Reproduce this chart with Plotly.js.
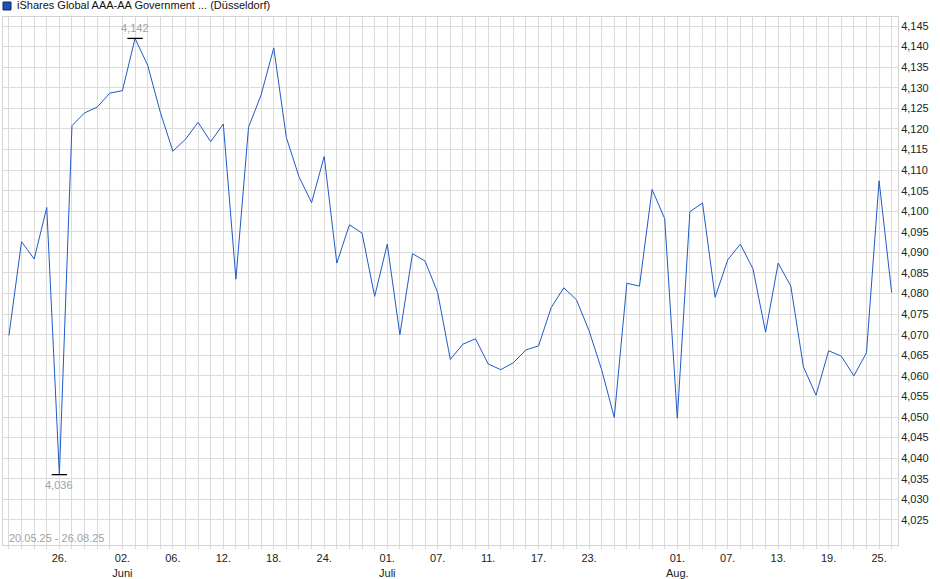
<!DOCTYPE html>
<html>
<head>
<meta charset="utf-8">
<script src="https://cdn.plot.ly/plotly-3.0.1.min.js"></script>
<style>
  html, body { margin: 0; padding: 0; background: #fff; }
  #chart { width: 940px; height: 579px; }
</style>
</head>
<body>
<div id="chart"></div>
<script>
// daily closing prices, Duesseldorf, 20.05.25 - 26.08.25

var seriesName = 'iShares Global AAA-AA Government ... (Düsseldorf)';

var dates = [
  '20.05.25', '21.05.25', '22.05.25', '23.05.25', '26.05.25', '27.05.25', '28.05.25', '29.05.25', '30.05.25',
  '02.06.25', '03.06.25', '04.06.25', '05.06.25', '06.06.25', '09.06.25', '10.06.25', '11.06.25', '12.06.25',
  '13.06.25', '16.06.25', '17.06.25', '18.06.25', '19.06.25', '20.06.25', '23.06.25', '24.06.25', '25.06.25',
  '26.06.25', '27.06.25', '30.06.25', '01.07.25', '02.07.25', '03.07.25', '04.07.25', '07.07.25', '08.07.25',
  '09.07.25', '10.07.25', '11.07.25', '14.07.25', '15.07.25', '16.07.25', '17.07.25', '18.07.25', '21.07.25',
  '22.07.25', '23.07.25', '24.07.25', '25.07.25', '28.07.25', '29.07.25', '30.07.25', '31.07.25', '01.08.25',
  '04.08.25', '05.08.25', '06.08.25', '07.08.25', '08.08.25', '11.08.25', '12.08.25', '13.08.25', '14.08.25',
  '15.08.25', '18.08.25', '19.08.25', '20.08.25', '21.08.25', '22.08.25', '25.08.25', '26.08.25'
];

var prices = [
  4.0698, 4.0926, 4.0884, 4.1009, 4.0360, 4.1208, 4.1239, 4.1253, 4.1287,
  4.1293, 4.1420, 4.1355, 4.1241, 4.1146, 4.1175, 4.1216, 4.1169, 4.1212,
  4.0835, 4.1204, 4.1283, 4.1397, 4.1179, 4.1084, 4.1021, 4.1133, 4.0874,
  4.0967, 4.0947, 4.0793, 4.0920, 4.0700, 4.0897, 4.0879, 4.0802, 4.0640,
  4.0677, 4.0690, 4.0629, 4.0615, 4.0632, 4.0663, 4.0673, 4.0766, 4.0814,
  4.0785, 4.0710, 4.0615, 4.0499, 4.0825, 4.0818, 4.1053, 4.0982, 4.0497,
  4.0999, 4.1020, 4.0791, 4.0882, 4.0920, 4.0860, 4.0706, 4.0874, 4.0818,
  4.0622, 4.0553, 4.0661, 4.0648, 4.0600, 4.0656, 4.1074, 4.0802
];

// labelled days on the x axis
var labelDates = ['26.05.25', '02.06.25', '06.06.25', '12.06.25', '18.06.25', '24.06.25', '01.07.25', '07.07.25',
                  '11.07.25', '17.07.25', '23.07.25', '01.08.25', '07.08.25', '13.08.25', '19.08.25', '25.08.25'];
var labelText = ['26.', '02.<br>Juni', '06.', '12.', '18.', '24.', '01.<br>Juli', '07.',
                 '11.', '17.', '23.', '01.<br>Aug.', '07.', '13.', '19.', '25.'];

// price axis ticks (no label on the 4,020 line)
var yTicks = [4.025, 4.030, 4.035, 4.040, 4.045, 4.050, 4.055, 4.060, 4.065, 4.070, 4.075, 4.080, 4.085,
              4.090, 4.095, 4.100, 4.105, 4.110, 4.115, 4.120, 4.125, 4.130, 4.135, 4.140, 4.145];

var i;
var tickText = [];
for (i = 0; i < dates.length; i++) {
    var k = labelDates.indexOf(dates[i]);
    tickText.push(k >= 0 ? labelText[k] : '');
}

function fmt(v) {
    return v.toFixed(3).replace('.', ',');
}

var iMax = 0, iMin = 0;
for (i = 1; i < prices.length; i++) {
    if (prices[i] > prices[iMax]) iMax = i;
    if (prices[i] < prices[iMin]) iMin = i;
}

var trace = {
    x: dates,
    y: prices,
    type: 'scatter',
    mode: 'lines',
    line: {color: '#1f5bc6', width: 1},
    hoverinfo: 'x+y'
};

var extremes = {
    x: [dates[iMax], dates[iMin]],
    y: [prices[iMax], prices[iMin]],
    type: 'scatter',
    mode: 'markers',
    marker: {symbol: 'line-ew', size: 11, line: {color: '#000', width: 1.3}},
    hoverinfo: 'skip'
};

var layout = {
    width: 940,
    height: 579,
    showlegend: false,
    paper_bgcolor: '#fff',
    plot_bgcolor: '#fff',
    separators: ',.',
    font: {family: 'Liberation Sans, Arial, sans-serif', size: 11, color: '#222'},
    margin: {l: 3, r: 42, t: 17, b: 34, pad: 0},
    xaxis: {
        type: 'category',
        range: [-0.47, 70.5],
        tickmode: 'array',
        tickvals: dates,
        ticktext: tickText,
        showgrid: true,
        gridcolor: '#dcdcdc',
        gridwidth: 1,
        ticks: 'outside',
        ticklen: 3,
        tickcolor: '#dcdcdc',
        showline: true,
        linecolor: '#d4d4d4',
        mirror: true,
        zeroline: false,
        tickangle: 0,
        tickfont: {size: 11, color: '#222'}
    },
    yaxis: {
        side: 'right',
        range: [4.0189, 4.1472],
        tickmode: 'array',
        tickvals: yTicks,
        ticktext: yTicks.map(fmt),
        showgrid: true,
        gridcolor: '#dcdcdc',
        gridwidth: 1,
        ticks: '',
        showline: true,
        linecolor: '#d4d4d4',
        mirror: true,
        zeroline: false,
        tickfont: {size: 11, color: '#222'}
    },
    shapes: [{
        type: 'rect',
        xref: 'paper', yref: 'paper',
        xsizemode: 'pixel', ysizemode: 'pixel',
        xanchor: 0, yanchor: 1,
        x0: 0, x1: 8, y0: 7, y1: 15,
        fillcolor: '#1f4fb8',
        line: {color: '#0d2a66', width: 1}
    }],
    annotations: [
        {
            text: seriesName,
            xref: 'paper', yref: 'paper',
            x: 0, y: 1, xshift: 12, yshift: 4,
            xanchor: 'left', yanchor: 'bottom',
            showarrow: false,
            font: {size: 11, color: '#111'}
        },
        {
            text: dates[0] + ' - ' + dates[dates.length - 1],
            xref: 'paper', yref: 'paper',
            x: 0, y: 0, xshift: 4, yshift: -1,
            xanchor: 'left', yanchor: 'bottom',
            showarrow: false,
            font: {size: 11, color: '#a3a3a3'}
        },
        {
            text: fmt(prices[iMax]),
            x: dates[iMax], y: prices[iMax],
            xref: 'x', yref: 'y',
            yshift: 2,
            xanchor: 'center', yanchor: 'bottom',
            showarrow: false,
            font: {size: 11, color: '#9aa2ad'}
        },
        {
            text: fmt(prices[iMin]),
            x: dates[iMin], y: prices[iMin],
            xref: 'x', yref: 'y',
            yshift: -2,
            xanchor: 'center', yanchor: 'top',
            showarrow: false,
            font: {size: 11, color: '#9aa2ad'}
        }
    ]
};

Plotly.newPlot('chart', [trace, extremes], layout, {displayModeBar: false, staticPlot: true});
</script>
</body>
</html>
